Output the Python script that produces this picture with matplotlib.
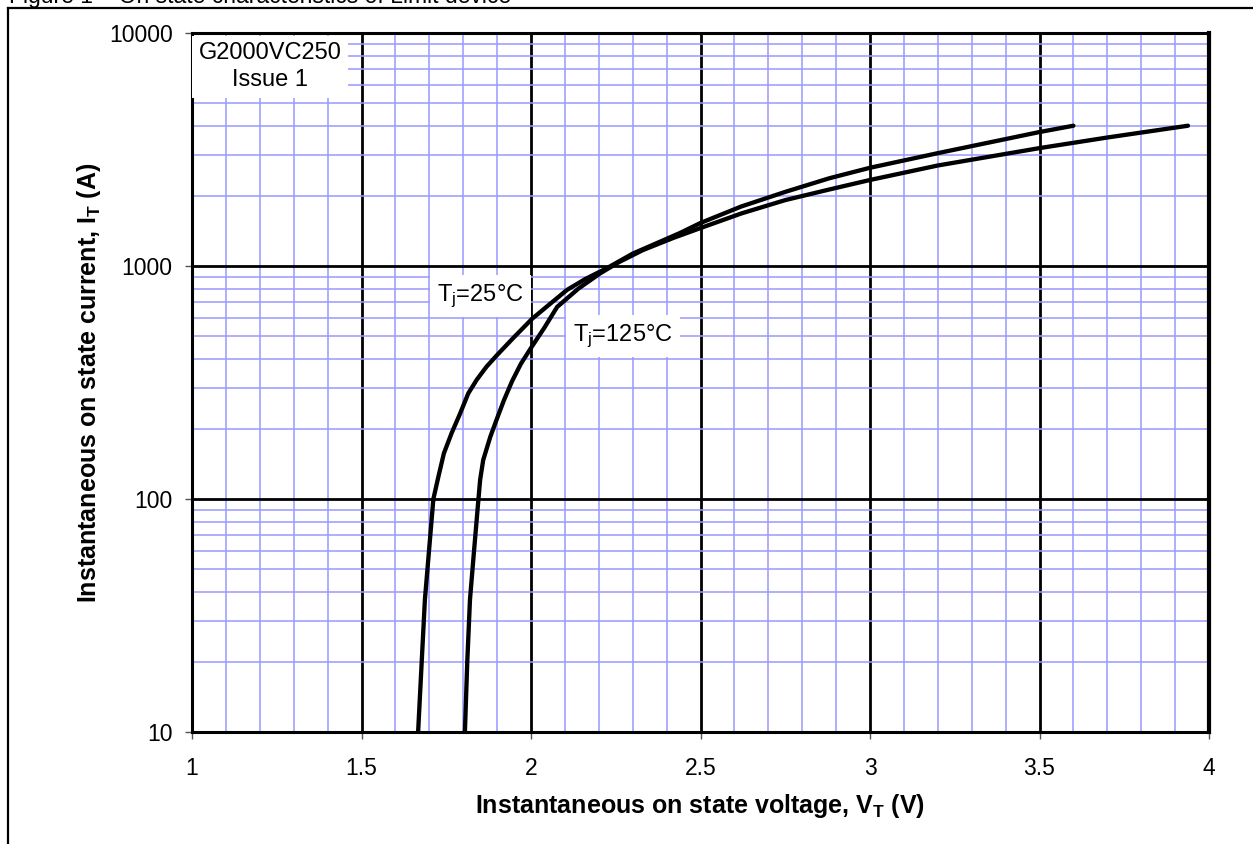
import matplotlib
matplotlib.use("Agg")
import matplotlib.pyplot as plt
from matplotlib.ticker import FixedLocator, NullFormatter
from matplotlib.lines import Line2D

plt.rcParams['font.family'] = ['Liberation Sans', 'DejaVu Sans']
plt.rcParams['mathtext.fontset'] = 'custom'
plt.rcParams['mathtext.rm'] = 'Liberation Sans'
plt.rcParams['mathtext.it'] = 'Liberation Sans'
plt.rcParams['mathtext.bf'] = 'Liberation Sans:bold'

# ---- data ----
v_25 = [1.667, 1.687, 1.712, 1.727, 1.743, 1.766, 1.791, 1.815, 1.840, 1.869,
        1.900, 1.950, 2.003, 2.050, 2.106, 2.160, 2.224, 2.300, 2.440, 2.500,
        2.620, 2.750, 2.880, 3.000, 3.200, 3.500, 3.600]
i_25 = [10, 37, 100, 125, 157, 192, 233, 284, 325, 370,
        415, 495, 593, 676, 789, 879, 979, 1130, 1387, 1530,
        1800, 2080, 2380, 2640, 3050, 3758, 4000]

v_125 = [1.805, 1.812, 1.820, 1.832, 1.845, 1.850, 1.859, 1.880, 1.899, 1.920,
         1.944, 1.970, 2.000, 2.040, 2.077, 2.140, 2.204, 2.260, 2.330, 2.420,
         2.500, 2.620, 2.750, 2.880, 3.000, 3.200, 3.500, 3.700, 3.938]
i_125 = [10, 20, 37, 60, 100, 121, 147, 185, 220, 265,
         320, 380, 445, 545, 667, 800, 930, 1040, 1170, 1320,
         1455, 1680, 1918, 2130, 2340, 2700, 3206, 3560, 4000]

x_ticks = [1, 1.5, 2, 2.5, 3, 3.5, 4]
x_tick_labels = ["1", "1.5", "2", "2.5", "3", "3.5", "4"]
y_ticks = [10, 100, 1000, 10000]
y_tick_labels = ["10", "100", "1000", "10000"]
x_minor = [1 + 0.1 * k for k in range(31)]
y_minor = [m * 10 ** d for d in range(1, 4) for m in range(2, 10)]

W, H = 1253, 844
fig = plt.figure(figsize=(W / 100, H / 100), dpi=100)
ax = fig.add_axes([192 / W, (H - 732) / H, 1017 / W, 699 / H])

ax.set_xscale('linear')
ax.set_yscale('log')
ax.set_xlim(1, 4)
ax.set_ylim(10, 10000)

ax.xaxis.set_major_locator(FixedLocator(x_ticks))
ax.set_xticklabels(x_tick_labels)
ax.xaxis.set_minor_locator(FixedLocator(x_minor))
ax.yaxis.set_major_locator(FixedLocator(y_ticks))
ax.set_yticklabels(y_tick_labels)
ax.yaxis.set_minor_locator(FixedLocator(y_minor))
ax.yaxis.set_minor_formatter(NullFormatter())

ax.tick_params(which='major', direction='out', length=5, width=1, color='#555555',
               labelsize=16.5)
ax.tick_params(axis='x', which='major', pad=13)
ax.tick_params(axis='y', which='major', pad=9)
ax.tick_params(which='minor', length=0)

ax.grid(which='minor', color='#9999FF', linewidth=1.1, zorder=0)
ax.grid(which='major', color='black', linewidth=2.0, zorder=1)
ax.set_axisbelow(True)

for s in ax.spines.values():
    s.set_linewidth(2.2)
ax.spines['right'].set_linewidth(3.0)

ax.plot(v_25, i_25, color='black', lw=3.1, solid_capstyle='round',
        solid_joinstyle='round', zorder=5)
ax.plot(v_125, i_125, color='black', lw=3.1, solid_capstyle='round',
        solid_joinstyle='round', zorder=5)

ax.set_xlabel(r'Instantaneous on state voltage, V$_\mathbf{T}$ (V)',
              fontsize=18, fontweight='bold', labelpad=9)
ax.set_ylabel(r'Instantaneous on state current, I$_\mathbf{T}$ (A)',
              fontsize=18, fontweight='bold', labelpad=4)

ax.text(1.23, 7150, 'G2000VC250\nIssue 1', fontsize=17, ha='center', va='center',
        linespacing=1.3,
        bbox=dict(facecolor='white', edgecolor='none', boxstyle='square,pad=0.28'),
        zorder=3)
ax.text(1.85, 743, r'T$_\mathrm{j}$=25°C', fontsize=17, ha='center', va='center',
        bbox=dict(facecolor='white', edgecolor='none', boxstyle='square,pad=0.3'),
        zorder=3)
ax.text(2.27, 501, r'T$_\mathrm{j}$=125°C', fontsize=17, ha='center', va='center',
        bbox=dict(facecolor='white', edgecolor='none', boxstyle='square,pad=0.3'),
        zorder=3)

# outer frame and cut-off caption
fig.add_artist(Line2D([8 / W, 8 / W], [0, 1 - 8 / H], color='black', lw=1.6,
                      transform=fig.transFigure))
fig.add_artist(Line2D([8 / W, 1], [1 - 8 / H, 1 - 8 / H], color='black', lw=1.6,
                      transform=fig.transFigure))
fig.text(9 / W, 1 - 3.5 / H, 'Figure 1 – On state characteristics of Limit device',
         fontsize=16.5, ha='left', va='baseline')

fig.savefig('out.png', dpi=100, facecolor='white')
